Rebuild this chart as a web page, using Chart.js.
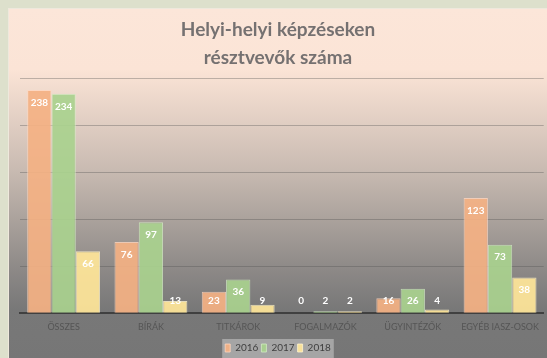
<!DOCTYPE html>
<html lang="hu">
<head>
<meta charset="utf-8">
<title>Helyi-helyi képzéseken résztvevők száma</title>
<script src="https://cdn.jsdelivr.net/npm/chart.js@4/dist/chart.umd.min.js"></script>
<style>
  html, body { margin: 0; padding: 0; background: #dde0cc; overflow: hidden; }
  #frame {
    position: absolute; left: 8px; top: 8px; width: 539px; height: 350px; overflow: hidden;
    background: linear-gradient(to bottom, #fce6d9 0px, #fbe4d6 60px, #c9bbb2 160px, #8d8987 260px, #787878 300px, #767676 350px);
    border-left: 1px solid #eee8dc; border-top: 1px solid #eee8dc;
    box-sizing: border-box;
  }
  canvas { display: block; }
</style>
</head>
<body>
<div id="frame"><canvas id="chart" width="538" height="354"></canvas></div>
<script>
const categories = ['ÖSSZES', 'BÍRÁK', 'TITKÁROK', 'FOGALMAZÓK', 'ÜGYINTÉZŐK', 'EGYÉB IASZ-OSOK'];
const years = ['2016', '2017', '2018'];
const values2016 = [238, 76, 23, 0, 16, 123];
const values2017 = [234, 97, 36, 2, 26, 73];
const values2018 = [66, 13, 9, 2, 4, 38];

const fills = ['rgba(244,177,131,0.92)', 'rgba(169,209,142,0.92)', 'rgba(255,230,153,0.92)'];
const edges = ['rgba(255,214,190,0.8)', 'rgba(210,236,195,0.8)', 'rgba(255,244,205,0.8)'];
const FONT = 'Lato, "Open Sans", sans-serif';

// fills the grey box behind the legend entries
const legendBackdrop = {
  id: 'legendBackdrop',
  beforeDraw(chart) {
    const lg = chart.legend;
    if (!lg || !lg.legendHitBoxes || !lg.legendHitBoxes.length) return;
    const boxes = lg.legendHitBoxes;
    const x0 = boxes[0].left - 3;
    const last = boxes[boxes.length - 1];
    const x1 = last.left + last.width + 3;
    const ctx = chart.ctx;
    ctx.save();
    ctx.fillStyle = '#a5a5a5';
    ctx.fillRect(x0, boxes[0].top - 4, x1 - x0, chart.height - boxes[0].top + 4);
    ctx.restore();
  }
};

// value labels just inside the top of each bar
const barValues = {
  id: 'barValues',
  afterDatasetsDraw(chart) {
    const ctx = chart.ctx;
    const base = chart.scales.y.getPixelForValue(0);
    ctx.save();
    ctx.font = 'bold 10px ' + FONT;
    ctx.fillStyle = '#ffffff';
    ctx.textAlign = 'center';
    ctx.textBaseline = 'middle';
    chart.data.datasets.forEach((ds, i) => {
      chart.getDatasetMeta(i).data.forEach((bar, j) => {
        const y = Math.min(bar.y + 12.5, base - 12.5);
        ctx.fillText(String(ds.data[j]), bar.x, y);
      });
    });
    ctx.restore();
  }
};

new Chart(document.getElementById('chart'), {
  type: 'bar',
  data: {
    labels: categories,
    datasets: [values2016, values2017, values2018].map((vals, i) => ({
      label: years[i],
      data: vals,
      backgroundColor: fills[i],
      borderColor: edges[i],
      borderWidth: 1,
      categoryPercentage: 0.835,
      barPercentage: 1,
    })),
  },
  options: {
    responsive: false,
    animation: false,
    layout: { padding: 0 },
    plugins: {
      title: {
        display: true,
        text: ['Helyi-helyi képzéseken', 'résztvevők száma'],
        color: '#757171',
        font: { family: FONT, size: 19, weight: 'bold', lineHeight: 1.47 },
        padding: { top: 7, bottom: 7 },
      },
      legend: {
        position: 'bottom',
        labels: {
          color: '#404040',
          font: { family: FONT, size: 10 },
          boxWidth: 5,
          boxHeight: 8,
          padding: 3,
        },
      },
      tooltip: { enabled: false },
    },
    scales: {
      x: {
        grid: { display: false, drawTicks: false },
        border: { color: '#404040', width: 2 },
        ticks: { color: '#555555', font: { family: FONT, size: 9 }, padding: 8, maxRotation: 0 },
      },
      y: {
        min: 0,
        max: 250,
        ticks: { display: false, stepSize: 50 },
        border: { display: false },
        grid: { color: 'rgba(80,80,80,0.35)', drawTicks: false },
        afterFit(scale) { scale.width = 11; },
      },
    },
  },
  plugins: [legendBackdrop, barValues],
});
</script>
</body>
</html>
